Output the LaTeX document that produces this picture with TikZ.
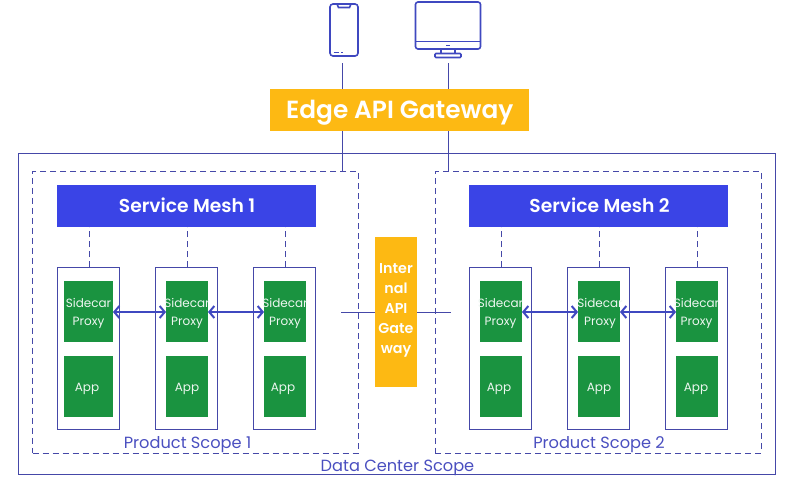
\documentclass[tikz,border=0pt]{standalone}
\usepackage{fontspec}
\setmainfont{Poppins}[BoldFont={Poppins SemiBold}]
\usetikzlibrary{arrows.meta,calc}
\definecolor{lineblue}{HTML}{4548A8}
\definecolor{iconblue}{HTML}{3F48C0}
\definecolor{meshblue}{HTML}{3A44E6}
\definecolor{gold}{HTML}{FDB913}
\definecolor{leaf}{HTML}{1A9340}
\definecolor{scopeblue}{HTML}{4A4FC0}
\tikzset{
  x=1pt,y=-1pt,
  every node/.style={inner sep=0pt,outer sep=0pt},
  scoperect/.style={draw=lineblue,line width=0.9pt,fill=none},
  dashrect/.style={draw=lineblue,line width=0.9pt,dash pattern=on 6pt off 4pt},
  meshbox/.style={fill=meshblue,minimum width=259pt,minimum height=42pt},
  meshtext/.style={text=white,font=\fontsize{18.7}{22}\selectfont\bfseries},
  edgebox/.style={fill=gold,minimum width=259pt,minimum height=42pt},
  edgetext/.style={text=white,font=\fontsize{24.8}{28}\selectfont\bfseries},
  gatebox/.style={fill=gold,minimum width=42pt,minimum height=150pt},
  gatetext/.style={text=white,align=center,font=\fontsize{14.3}{20}\selectfont\bfseries},
  podbox/.style={draw=lineblue,line width=0.9pt,fill=white,minimum width=62pt,minimum height=162pt},
  greenA/.style={fill=leaf,minimum width=49pt,minimum height=61pt},
  greenB/.style={fill=leaf,minimum width=42pt,minimum height=61pt},
  gtext/.style={text=white!92!leaf,align=center,font=\fontsize{12}{17.5}\selectfont},
  conn/.style={draw=lineblue,line width=0.9pt},
  dconn/.style={draw=lineblue,line width=0.9pt,dash pattern=on 6pt off 4pt},
  biarrow/.style={draw=iconblue,line width=2pt,{Straight Barb[length=5pt,width=12pt,line width=2pt]}-{Straight Barb[length=5pt,width=12pt,line width=2pt]}},
  scopetext/.style={text=scopeblue,font=\fontsize{16.2}{19}\selectfont},
  icon/.style={draw=iconblue,line width=1.6pt},
}
\begin{document}
\begin{tikzpicture}
\useasboundingbox (0,0) rectangle (800,480);
\fill[white] (0,0) rectangle (800,480);
% scopes
\node[scoperect,minimum width=757pt,minimum height=320.5pt] (dc) at (396.5,313.7) {};
\node[dashrect,minimum width=326pt,minimum height=281.5pt] (ps1) at (195.5,312.2) {};
\node[dashrect,minimum width=326pt,minimum height=281.5pt] (ps2) at (598,312.2) {};
\node[scopetext] (ps1t) at (187.5,444.5) {Product Scope 1};
\node[scopetext] (ps2t) at (599,444.5) {Product Scope 2};
\node[scopetext] (dct) at (397.5,467.5) {Data Center Scope};
% devices
\node[icon,rounded corners=3pt,minimum width=28pt,minimum height=52pt] (phone) at (344,30) {};
\draw[icon] (337,4) -- (338.5,7.5) -- (349.5,7.5) -- (351,4);
\draw[icon,line width=1.3pt] (333.5,52.5) -- (339,52.5) (341,52.5) -- (342.5,52.5);
\node[icon,rounded corners=2.5pt,minimum width=65pt,minimum height=47pt] (monitor) at (448,25.5) {};
\draw[icon] (monitor.west |- 0,41.5) -- (monitor.east |- 0,41.5);
\draw[icon] (441,49) -- (441,53.5) (455,49) -- (455,53.5);
\node[icon,rounded corners=1pt,minimum width=26pt,minimum height=4pt] (stand) at (448,55.5) {};
\fill[iconblue] (446,44.5) rectangle (450,46);
% gateways and meshes
\node[edgebox] (edge) at (399.5,110) {};
\node[edgetext] (edget) at (399.8,113) {Edge API Gateway};
\node[meshbox] (m1) at (186.5,206) {};
\node[meshtext] (m1t) at (187,205.5) {Service Mesh 1};
\node[meshbox] (m2) at (598.5,206) {};
\node[meshtext] (m2t) at (599.5,205.5) {Service Mesh 2};
\node[gatebox] (gw) at (396,312) {};
\node[gatetext] (gwt) at (396,310) {Inter\\nal\\API\\Gate\\way};
% device connectors
\coordinate (p) at (342.5,63);
\coordinate (q) at (448.5,63);
\coordinate (pe) at (342.5,171.5);
\coordinate (qe) at (448.5,171.5);
\draw[conn] (p) -- (p |- edge.north);
\draw[conn] (q) -- (q |- edge.north);
\draw[conn] (pe |- edge.south) -- (pe);
\draw[conn] (qe |- edge.south) -- (qe);
% pods
\foreach \n/\cx/\gx/\st/\tx/\ax in {
  a/88.3/88.5/greenA/88.5/87,
  b/186.4/187/greenB/187/187,
  c/284.4/285/greenB/285/283,
  d/500.4/501/greenB/500.5/499,
  e/598.4/599/greenB/600/599,
  f/696.5/697/greenB/696.5/696}{
  \node[podbox] (pod\n) at (\cx,348) {};
  \node[\st] (s\n) at (\gx,311.5) {};
  \node[\st] (ap\n) at (\gx,386.5) {};
  \node[gtext] (st\n) at (\tx,313.5) {Sidecar\\Proxy};
  \node[gtext] (at\n) at (\ax,389) {App};
}
% dashed mesh links
\foreach \n/\m in {a/m1,b/m1,c/m1,d/m2,e/m2,f/m2}
  \draw[dconn] ([xshift=1.2pt]pod\n.north) -- ([xshift=1.2pt]pod\n.north |- \m.south);
% internal gateway links
\coordinate (gl) at (341,312.5);
\coordinate (gr) at (451,312.5);
\draw[conn] (gl) -- (gl -| gw.west);
\draw[conn] (gw.east |- gr) -- (gr);
% sidecar arrows
\draw[biarrow] (sa.east |- 0,312) -- (sb.west |- 0,312);
\draw[biarrow] (sb.east |- 0,312) -- (sc.west |- 0,312);
\draw[biarrow] (sd.east |- 0,312) -- (se.west |- 0,312);
\draw[biarrow] (se.east |- 0,312) -- (sf.west |- 0,312);
\end{tikzpicture}
\end{document}
